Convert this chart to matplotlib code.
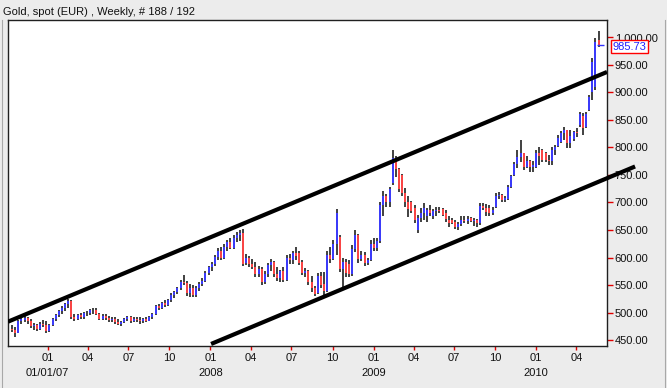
import numpy as np
import matplotlib
matplotlib.use("Agg")
import matplotlib.pyplot as plt
from matplotlib.ticker import FixedLocator, FuncFormatter
from matplotlib.lines import Line2D

# ---------------- data ----------------
title = "Gold, spot (EUR) , Weekly, # 188 / 192"
first_week = np.datetime64("2006-10-13")

opens = [470, 468, 463, 484, 487, 490, 484, 475, 478, 470, 480, 477, 467, 478, 488, 496, 502, 509, 515, 521,
         492, 488, 495, 492, 499, 500, 504, 505, 497, 489, 494, 490, 486, 489, 483, 480, 483, 488, 491, 484,
         489, 486, 484, 488, 485, 491, 498, 511, 509, 518, 514, 522, 532, 537, 544, 556, 553, 535, 545, 531,
         545, 552, 558, 572, 582, 589, 601, 612, 600, 620, 628, 618, 636, 641, 645, 590, 600, 588, 583, 570,
         580, 556, 570, 586, 592, 570, 563, 575, 560, 600, 596, 608, 608, 592, 572, 576, 555, 545, 536, 566,
         552, 540, 605, 598, 625, 637, 580, 592, 588, 570, 615, 640, 598, 605, 590, 596, 625, 618, 630, 695,
         712, 700, 735, 780, 760, 750, 718, 700, 700, 690, 650, 672, 680, 675, 686, 675, 684, 686, 688, 680,
         668, 668, 665, 656, 660, 668, 666, 672, 666, 668, 662, 694, 690, 690, 680, 692, 712, 714, 704, 706,
         728, 750, 770, 782, 790, 764, 775, 764, 765, 790, 795, 790, 778, 775, 796, 803, 810, 826, 832, 808,
         815, 828, 840, 858, 838, 868, 900, 910, 995]
highs = [477, 473, 486, 491, 493, 492, 488, 481, 480, 482, 486, 484, 480, 490, 498, 505, 512, 518, 524, 523,
         497, 498, 500, 501, 503, 506, 508, 508, 500, 497, 498, 493, 492, 491, 488, 485, 490, 494, 493, 491,
         492, 491, 490, 492, 494, 500, 514, 516, 520, 523, 525, 535, 540, 547, 560, 568, 557, 552, 550, 548,
         556, 562, 575, 585, 592, 605, 617, 620, 625, 632, 635, 640, 646, 650, 652, 606, 603, 598, 592, 585,
         582, 575, 590, 597, 593, 582, 578, 582, 605, 606, 612, 620, 612, 596, 581, 578, 566, 548, 572, 574,
         574, 612, 619, 632, 688, 640, 600, 598, 596, 622, 650, 642, 612, 610, 600, 632, 635, 636, 700, 720,
         716, 728, 795, 784, 762, 752, 726, 712, 703, 695, 678, 690, 699, 690, 695, 688, 692, 692, 690, 686,
         675, 672, 668, 665, 675, 675, 675, 674, 672, 670, 699, 699, 697, 695, 692, 717, 719, 715, 712, 731,
         750, 773, 795, 813, 790, 785, 777, 775, 795, 801, 798, 792, 786, 801, 804, 823, 830, 837, 832, 832,
         830, 835, 864, 862, 864, 895, 963, 999, 1012]
lows = [464, 455, 462, 480, 482, 480, 472, 469, 466, 468, 474, 462, 465, 476, 485, 492, 498, 503, 508, 488,
        484, 486, 489, 488, 494, 496, 498, 495, 486, 486, 487, 482, 483, 480, 477, 476, 481, 485, 481, 482,
        483, 480, 481, 482, 484, 489, 496, 505, 507, 510, 512, 519, 526, 533, 541, 550, 530, 528, 528, 529,
        540, 548, 555, 568, 576, 585, 595, 596, 598, 612, 615, 616, 628, 630, 584, 586, 583, 580, 565, 565,
        550, 552, 565, 575, 565, 558, 555, 555, 558, 588, 588, 595, 586, 568, 564, 550, 537, 530, 534, 545,
        528, 537, 590, 595, 605, 574, 545, 565, 565, 567, 610, 590, 594, 585, 586, 594, 612, 612, 627, 675,
        692, 692, 732, 746, 719, 712, 692, 674, 680, 662, 645, 664, 668, 664, 676, 670, 676, 680, 675, 665,
        656, 660, 652, 650, 658, 662, 660, 664, 658, 656, 659, 686, 676, 676, 678, 690, 706, 700, 700, 704,
        726, 748, 762, 773, 759, 762, 755, 755, 762, 768, 774, 774, 768, 768, 786, 801, 808, 813, 799, 799,
        812, 819, 837, 823, 835, 866, 886, 905, 983]
closes = [468, 462, 484, 488, 490, 484, 475, 478, 470, 480, 477, 467, 478, 488, 496, 502, 509, 515, 521, 492,
          488, 495, 492, 499, 500, 504, 505, 497, 489, 494, 490, 486, 489, 483, 480, 483, 488, 491, 484, 489,
          486, 484, 488, 485, 491, 498, 511, 509, 518, 514, 522, 532, 537, 544, 556, 553, 535, 545, 531, 545,
          552, 558, 572, 582, 589, 601, 612, 600, 620, 628, 618, 636, 641, 645, 588, 600, 588, 583, 570, 580,
          556, 570, 586, 592, 570, 563, 575, 560, 600, 596, 608, 602, 590, 572, 576, 555, 545, 534, 566, 550,
          540, 605, 598, 625, 680, 580, 592, 572, 570, 615, 640, 598, 605, 590, 596, 625, 618, 630, 695, 712,
          700, 724, 780, 760, 725, 718, 700, 688, 684, 668, 672, 680, 690, 686, 680, 684, 686, 684, 678, 670,
          662, 662, 656, 660, 668, 666, 670, 666, 668, 662, 694, 690, 682, 680, 686, 712, 714, 704, 708, 728,
          748, 770, 782, 790, 764, 775, 764, 768, 790, 784, 778, 778, 775, 796, 800, 818, 826, 832, 808, 820,
          828, 826, 860, 835, 860, 892, 955, 992, 985.73]
last_price = 985.73

# channel lines (week index, price)
upper_channel_weeks = [-1.3, 190.7]
upper_channel_prices = [483.3, 937.3]
lower_channel_weeks = [63.8, 199.7]
lower_channel_prices = [442.8, 765.5]

y_ticks = [450, 500, 550, 600, 650, 700, 750, 800, 850, 900, 950, 1000]
month_ticks = ["2007-01-01", "2007-04-01", "2007-07-01", "2007-10-01",
               "2008-01-01", "2008-04-01", "2008-07-01", "2008-10-01",
               "2009-01-01", "2009-04-01", "2009-07-01", "2009-10-01",
               "2010-01-01", "2010-04-01"]
month_labels = ["01", "04", "07", "10", "01", "04", "07", "10",
                "01", "04", "07", "10", "01", "04"]
year_labels = ["01/01/07", "", "", "", "2008", "", "", "", "2009", "", "", "", "2010", ""]

# ---------------- plot ----------------
plt.rcParams["font.family"] = ["Liberation Sans", "DejaVu Sans"]
W, H = 667, 388
fig = plt.figure(figsize=(W / 100, H / 100), dpi=100)
fig.patch.set_facecolor("#ECECEC")
ax = fig.add_axes([8 / W, 1 - 346 / H, (607 - 8) / W, (346 - 20) / H])
ax.set_facecolor("white")

o = np.array(opens, float)
h = np.array(highs, float)
l = np.array(lows, float)
c = np.array(closes, float)
x = np.arange(len(c))

ax.vlines(x, l, h, colors="#404040", linewidth=1.4, zorder=2)
up = c >= o
ax.vlines(x[up], o[up], c[up], colors="#3b3bff", linewidth=1.4, zorder=3)
ax.vlines(x[~up], o[~up], c[~up], colors="#ff4545", linewidth=1.4, zorder=3)

# last close marker
ax.hlines(last_price, x[-1] - 0.6, x[-1] + 1.6, colors="#3333ff", linewidth=1.0, zorder=4)

ax.plot(upper_channel_weeks, upper_channel_prices, color="black", linewidth=3.0,
        solid_capstyle="butt", zorder=5)
ax.plot(lower_channel_weeks, lower_channel_prices, color="black", linewidth=3.0,
        solid_capstyle="butt", zorder=5, clip_on=False)

ax.set_xlim(-1.3, 190.7)
ax.set_ylim(439.1, 1031.8)

# y axis on right
ax.yaxis.tick_right()
ax.yaxis.set_major_locator(FixedLocator(y_ticks))
ax.yaxis.set_major_formatter(FuncFormatter(lambda v, p: f"{v:,.2f}"))
ax.tick_params(axis="y", colors="#e00000", length=4, width=1, pad=1.5,
               labelcolor="#111111", labelsize=8)

tick_pos = [(np.datetime64(d) - first_week) / np.timedelta64(7, "D") for d in month_ticks]
ax.set_xticks(tick_pos)
ax.set_xticklabels([m + "\n" + y for m, y in zip(month_labels, year_labels)],
                   linespacing=1.6)
ax.tick_params(axis="x", colors="#e00000", length=3, width=1, pad=2,
               labelcolor="#111111", labelsize=8)

for s in ax.spines.values():
    s.set_color("#202020")
    s.set_linewidth(1.0)

# price box
ax.annotate(f"{last_price:.2f}", xy=(1.0, last_price), xycoords=("axes fraction", "data"),
            xytext=(4, -1), textcoords="offset points", ha="left", va="center",
            fontsize=8, color="#2020ff", zorder=10, annotation_clip=False,
            bbox=dict(boxstyle="square,pad=0.15", fc="white", ec="#ff0000", lw=1.0))

# outer panel frame lines
fig.add_artist(Line2D([2 / W, 2 / W], [0, 1 - 20 / H], transform=fig.transFigure,
                      color="#a8a8a8", linewidth=0.8))
fig.add_artist(Line2D([665 / W, 665 / W], [0, 1 - 20 / H], transform=fig.transFigure,
                      color="#a8a8a8", linewidth=0.8))

fig.text(3 / W, 1 - 12 / H, title, fontsize=8, color="#111111", ha="left", va="center")

fig.savefig("out.png", dpi=100, facecolor=fig.get_facecolor())
